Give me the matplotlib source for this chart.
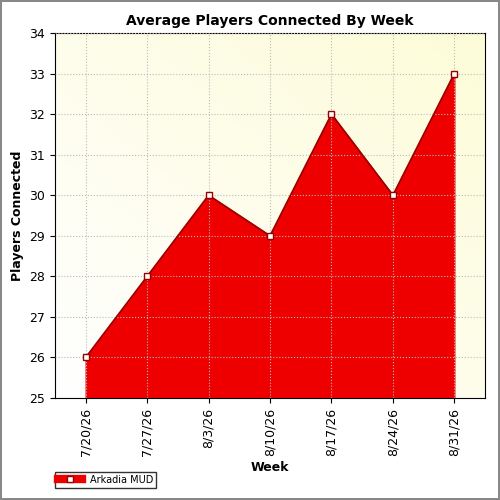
import numpy as np
import matplotlib
matplotlib.use("Agg")
import matplotlib.pyplot as plt
from matplotlib.colors import LinearSegmentedColormap

weeks = ["7/20/26", "7/27/26", "8/3/26", "8/10/26", "8/17/26", "8/24/26", "8/31/26"]
players = [26, 28, 30, 29, 32, 30, 33]
series_name = "Arkadia MUD"

fig = plt.figure(figsize=(5, 5), dpi=100)
fig.patch.set_edgecolor("#888888")
fig.patch.set_linewidth(1.5)
ax = fig.add_axes([0.11, 0.204, 0.86, 0.73])

# gradient background: white bottom-left to pale yellow top-right
cmap = LinearSegmentedColormap.from_list("bg", ["#ffffff", "#fdfcd8"])
gx, gy = np.meshgrid(np.linspace(0, 1, 100), np.linspace(0, 1, 100))
ax.imshow((gx + gy) / 2, cmap=cmap, extent=[-0.5, 6.5, 25, 34], origin="lower",
          aspect="auto", zorder=0)

x = np.arange(len(weeks))
ax.fill_between(x, 25, players, color="#ee0000", zorder=2)
ax.plot(x, players, color="#990000", lw=1.2, marker="s", ms=5,
        mfc="white", mec="#990000", zorder=3)

ax.set_xlim(-0.5, 6.5)
ax.set_ylim(25, 34)
ax.set_xticks(x)
ax.set_xticklabels(weeks, rotation=90, fontsize=9)
ax.set_yticks(range(25, 35))
ax.tick_params(axis="y", labelsize=9)
ax.grid(color="#bbbbbb", linestyle=":", lw=0.8)
ax.set_axisbelow(False)
ax.set_title("Average Players Connected By Week", fontsize=10, fontweight="bold")
ax.set_xlabel("Week", fontsize=9, fontweight="bold")
ax.set_ylabel("Players Connected", fontsize=9, fontweight="bold")

fig.legend([plt.Line2D([], [], color="#ee0000", lw=6, marker="s", ms=5,
                       mfc="white", mec="#990000")],
           [series_name], loc="lower left", bbox_to_anchor=(0.1, 0.015),
           fontsize=7, frameon=True, fancybox=False, edgecolor="black",
           borderpad=0.3, handlelength=2.5)

fig.savefig("out.png", dpi=100, edgecolor=fig.get_edgecolor())
